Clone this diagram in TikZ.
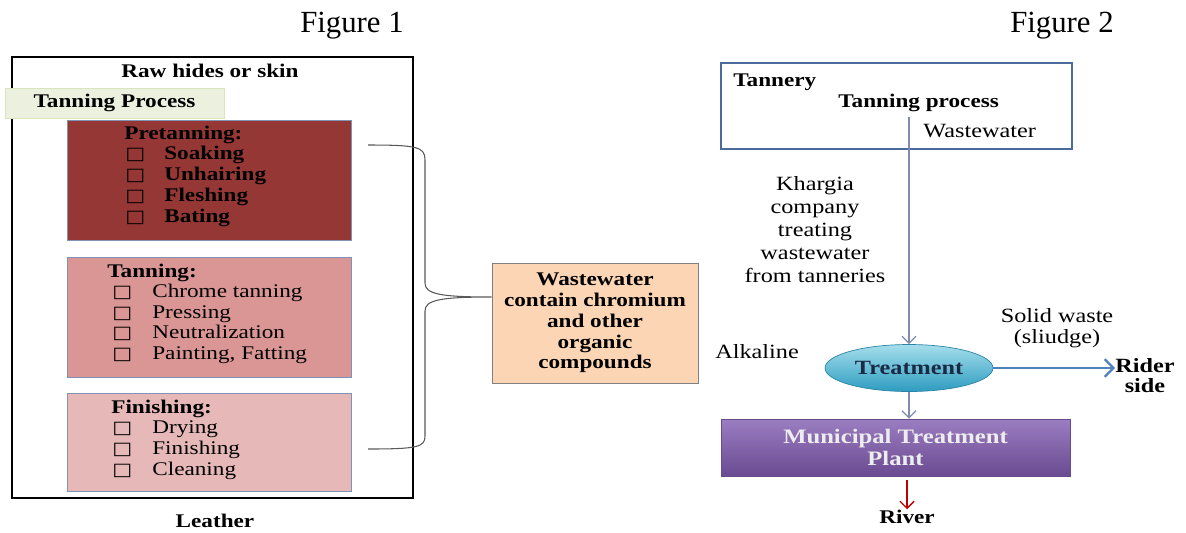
\documentclass[tikz,border=0pt]{standalone}
\usepackage{fontspec}
\setmainfont{Liberation Serif}
\newfontfamily\widefont{Liberation Serif}[FakeStretch=1.2]
\newfontfamily\symfont{DejaVu Sans}[FakeStretch=1.2]
\usetikzlibrary{arrows.meta,shapes.geometric}
\definecolor{pretanfill}{HTML}{953735}
\definecolor{tanfill}{HTML}{D99694}
\definecolor{finfill}{HTML}{E6B9B8}
\definecolor{headfill}{HTML}{EBF1DE}
\definecolor{headline}{HTML}{D7E4BD}
\definecolor{boxline}{HTML}{8093B3}
\definecolor{wwfill}{HTML}{FCD5B5}
\definecolor{tanline}{HTML}{4A6B9B}
\definecolor{flowline}{HTML}{7D8CAE}
\definecolor{riderline}{HTML}{4F81BD}
\definecolor{treattop}{HTML}{A5DEEC}
\definecolor{treatmid}{HTML}{45B5D6}
\definecolor{treatbot}{HTML}{2E9CC0}
\definecolor{treatline}{HTML}{2B84A6}
\definecolor{treattext}{HTML}{1A2A44}
\definecolor{mtptop}{HTML}{9B7DC2}
\definecolor{mtpbot}{HTML}{6A4A90}
\definecolor{riverred}{HTML}{C00000}
\tikzset{
  rfont/.style={font=\widefont\fontsize{11}{11.8}\selectfont},
  bfont/.style={font=\widefont\bfseries\fontsize{11}{11.8}\selectfont},
  txt/.style={inner sep=0pt, anchor=base west, rfont},
  btxt/.style={inner sep=0pt, anchor=base west, bfont},
  chk/.style={inner sep=0pt, anchor=base west, font=\symfont\fontsize{10}{10}\selectfont},
  stage/.style={draw=boxline, inner sep=0pt, minimum width=5.68cm},
  flow/.style={draw=flowline, line width=0.7pt, -{Straight Barb[length=4pt,width=8pt]}},
  sludge/.style={draw=riderline, line width=1.3pt, -{Straight Barb[length=5pt,width=10pt]}},
}
\begin{document}
\begin{tikzpicture}[x=0.02cm,y=-0.02cm]
\useasboundingbox (0,0) rectangle (1186,532);
% Figure 1
\node[font=\fontsize{17.5}{20}\selectfont, anchor=base, inner sep=0pt] (fig1) at (352,32) {Figure 1};
\node[draw, line width=1.5pt, inner sep=0pt, minimum width=8.02cm, minimum height=8.82cm] (frame) at (212.5,277.5) {};
\node[btxt, anchor=base] (raw) at (210,77) {Raw hides or skin};
\node[draw=headline, fill=headfill, inner sep=0pt, bfont, minimum width=4.38cm, minimum height=0.6cm] (head) at (114.5,103) {Tanning Process};
\node[btxt, anchor=base] (leather) at (215,527) {Leather};
%
\node[stage, fill=pretanfill, minimum height=2.4cm] (pre) at (209,180) {};
\node[btxt] (preHead) at (124,139) {Pretanning:};
\foreach \task [count=\i] in {Soaking, Unhairing, Fleshing, Bating}  % list elements
{	\node[chk] (preBox\i) at (125,139+20.8*\i) {□};
	\node[btxt] (preItem\i) at (164,139+20.8*\i) {\task};
}
\node[stage, fill=tanfill, minimum height=2.4cm] (tan) at (209,317) {};
\node[btxt] (tanHead) at (107,277) {Tanning:};
\foreach \task [count=\i] in {Chrome tanning, Pressing, Neutralization, {Painting, Fatting}}  % list elements
{	\node[chk] (tanBox\i) at (112,277+20.5*\i) {□};
	\node[txt] (tanItem\i) at (152,277+20.5*\i) {\task};
}
\node[stage, fill=finfill, minimum height=1.96cm] (fin) at (209,442) {};
\node[btxt] (finHead) at (111,413) {Finishing:};
\foreach \task [count=\i] in {Drying, Finishing, Cleaning}  % list elements
{	\node[chk] (finBox\i) at (112,413+20.7*\i) {□};
	\node[txt] (finItem\i) at (152,413+20.7*\i) {\task};
}
%
\node[draw=gray, fill=wwfill, inner sep=0pt, bfont, align=center, minimum width=4.12cm, minimum height=2.4cm] (ww) at (595,323) {Wastewater\\contain chromium\\and other\\organic\\compounds};
\coordinate (tip) at (ww.west |- 0,297);
\draw[draw=black!65, line width=0.6pt] (368,145) .. controls (418,145) and (425,147) .. (425,160) -- (425,283)
	.. controls (425,294) and (440,297) .. (tip) .. controls (440,297) and (425,300) .. (425,311) -- (425,436)
	.. controls (425,447) and (418,449) .. (368,449);
% Figure 2
\node[font=\fontsize{17.5}{20}\selectfont, anchor=base, inner sep=0pt] (fig2) at (1062,32) {Figure 2};
\node[draw=tanline, line width=1.3pt, inner sep=0pt, minimum width=7.02cm, minimum height=1.72cm] (tannery) at (896.5,106) {};
\node[btxt] (tanName) at (733,86) {Tannery};
\node[btxt] (tanProc) at (838,107) {Tanning process};
\node[txt, font=\widefont\fontsize{11.5}{13}\selectfont] (wwLbl) at (923,137) {Wastewater};
\coordinate (wwOut) at (909,117);
\node[inner sep=0pt, align=center, font=\widefont\fontsize{11.5}{13}\selectfont] (khargia) at (815,229.5) {Khargia\\company\\treating\\wastewater\\from tanneries};
%
\node[ellipse, draw=treatline, top color=treattop, middle color=treatmid, bottom color=treatbot, minimum width=3.36cm, minimum height=0.94cm, inner sep=0pt, font=\widefont\bfseries\fontsize{11.5}{13}\selectfont, text=treattext] (treat) at (909,368) {Treatment};
\draw[flow] (wwOut) -- (treat);
\node[txt, font=\widefont\fontsize{11.5}{13}\selectfont] (alk) at (715,358) {Alkaline};
\node[inner sep=0pt, align=center, font=\widefont\fontsize{11.5}{11.9}\selectfont] (solid) at (1057,328) {Solid waste\\(sliudge)};
\node[inner sep=0pt, align=center, font=\widefont\bfseries\fontsize{11.5}{11.3}\selectfont] (rider) at (1145,375.5) {Rider\\side};
\draw[sludge] (treat.east) -- (treat.east -| rider.west);
%
\node[draw=mtpbot, top color=mtptop, bottom color=mtpbot, inner sep=0pt, align=center, text=white!93!black, font=\widefont\bfseries\fontsize{11.7}{12.5}\selectfont, minimum width=6.98cm, minimum height=1.14cm] (mtp) at (895.5,447.5) {Municipal Treatment\\Plant};
\draw[flow] (treat.south) -- (treat.south |- mtp.north);
\node[btxt, anchor=base] (river) at (907,523) {River};
\draw[draw=riverred, line width=0.8pt, shorten <=2pt, -{Straight Barb[length=4pt,width=8pt]}] (river.north |- mtp.south) -- (river.north);
\end{tikzpicture}
\end{document}
